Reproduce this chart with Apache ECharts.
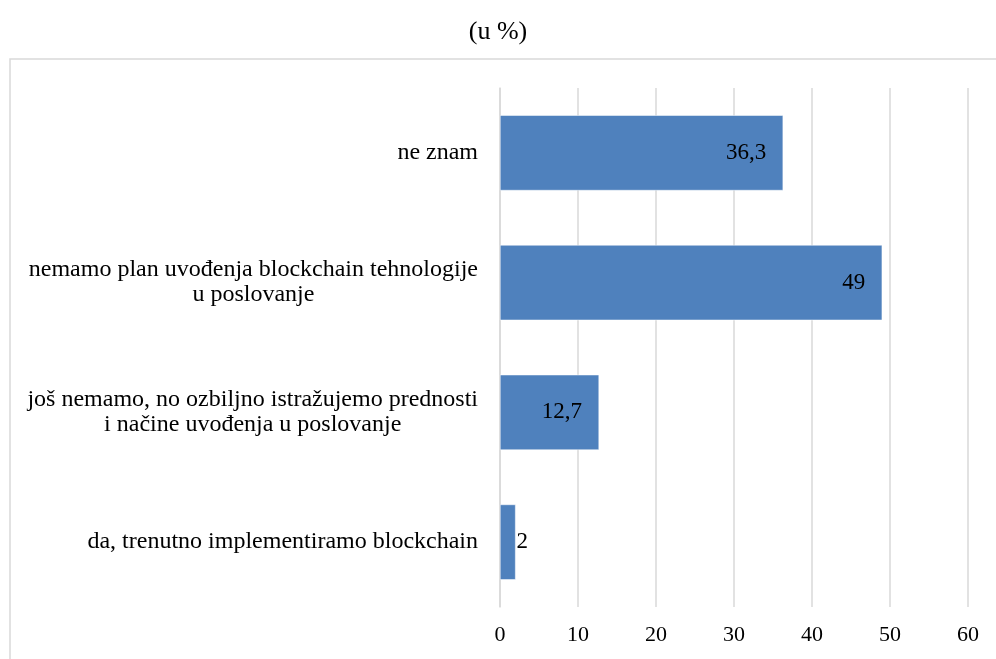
<!DOCTYPE html>
<html><head><meta charset="utf-8">
<script src="https://cdn.jsdelivr.net/npm/echarts@6/dist/echarts.min.js"></script>
<style>html,body{margin:0;padding:0;background:#fff}#c{width:996px;height:659px}</style>
</head><body><div id="c"></div>
<script>
const categories = [
  'da, trenutno implementiramo blockchain',
  'još nemamo, no ozbiljno istražujemo prednosti\ni načine uvođenja u poslovanje',
  'nemamo plan uvođenja blockchain tehnologije\nu poslovanje',
  'ne znam'
];
const values = [2, 12.7, 49, 36.3];
const xTicks = [0, 10, 20, 30, 40, 50, 60];
const titleText = '(u %)';

const font = '"Liberation Serif", "Times New Roman", serif';
const chart = echarts.init(document.getElementById('c'));
chart.setOption({
  backgroundColor: '#fff',
  animation: false,
  title: { text: titleText, left: 'center', top: 14, textStyle: { fontFamily: font, fontSize: 26, fontWeight: 'normal', color: '#000' } },
  graphic: [{ type: 'rect', shape: { x: 10, y: 59, width: 1000, height: 700 }, style: { fill: 'none', stroke: '#d9d9d9', lineWidth: 1.5 }, silent: true, z: -1 }],
  grid: { left: 500, right: 28, top: 88, bottom: 52, containLabel: false },
  xAxis: {
    type: 'value', min: xTicks[0], max: xTicks[xTicks.length - 1], interval: 10,
    axisLine: { show: false }, axisTick: { show: false },
    splitLine: { show: true, lineStyle: { color: '#d9d9d9', width: 1.5 } },
    axisLabel: { fontFamily: font, fontSize: 22, color: '#000', margin: 17 }
  },
  yAxis: {
    type: 'category', data: categories,
    axisLine: { show: true, lineStyle: { color: '#d9d9d9', width: 1.5 } }, axisTick: { show: false },
    axisLabel: {
      margin: 22, align: 'right', lineHeight: 25,
      formatter: v => v.split('\n').map(l => '{c|' + l + '}').join('\n'),
      rich: { c: { align: 'center', fontFamily: font, fontSize: 24, color: '#000', lineHeight: 25 } }
    }
  },
  series: [{
    type: 'bar', data: values.map(v => ({
      value: v,
      label: v < 5 ? { position: 'right', distance: 1 } : { position: 'insideRight', distance: 17 }
    })),
    barCategoryGap: '42%',
    itemStyle: { color: '#4f81bd', borderColor: '#ffffff', borderWidth: 0.5 },
    label: { show: true, fontFamily: font, fontSize: 23, color: '#000', formatter: p => String(p.value).replace('.', ',') }
  }]
});
</script></body></html>
